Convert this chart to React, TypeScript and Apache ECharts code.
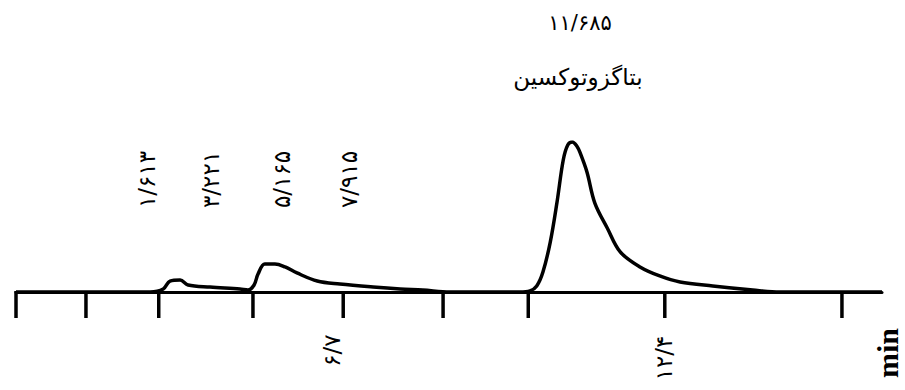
import React, { useEffect, useRef } from "react";
import * as echarts from "echarts";

// Retention time axis (min) and detector signal (% of main peak height)
const signalTime = [
  0.9, 3.28, 3.51, 3.63, 3.81, 3.95, 4.34, 4.87, 5.01, 5.12, 5.19, 5.31, 5.49, 5.67, 5.88,
  6.24, 6.64, 7.23, 7.71, 8.11, 8.59, 9.83, 10.01, 10.13, 10.24, 10.37, 10.49, 10.6, 10.68,
  10.76, 10.84, 10.9, 11.02, 11.16, 11.38, 11.61, 11.96, 12.31, 12.67, 13.25, 13.96, 14.44, 16.25,
];
const signalValue = [
  0, 0, 2.0, 7.3, 8.0, 4.7, 3.3, 2.0, 1.3, 4.7, 12.0, 18.7, 18.7, 16.7, 12.7,
  7.3, 5.3, 3.3, 2.0, 1.3, 0, 0, 0.7, 4.0, 13.3, 33.3, 60.0, 88.0, 98.0,
  100, 97.3, 92.7, 80.0, 59.3, 42.7, 26.7, 16.7, 10.7, 6.7, 4.0, 1.3, 0, 0,
];

// Tick marks hanging below the baseline (min)
const tickTimes = [0.9, 2.14, 3.43, 5.1, 6.7, 8.47, 9.98, 12.4, 15.54];

// Peak retention-time labels (vertical, above the trace)
const peakLabelTexts = ["۱/۶۱۳", "۳/۲۲۱", "۵/۱۶۵", "۷/۹۱۵"];
const peakLabelTimes = [3.22, 4.36, 5.61, 6.8];

// Axis labels under the baseline
const axisLabelTexts = ["۶/۷", "۱۲/۴"];
const axisLabelTimes = [6.5, 12.39];

const mainPeakTime = "۱۱/۶۸۵";
const mainPeakName = "بتاگزوتوکسین";
const unitLabel = "min";

const X_MIN = 0.9;
const X_MAX = 16.25;

export default function App() {
  const ref = useRef<HTMLDivElement>(null);

  useEffect(() => {
    if (!ref.current) return;
    const chart = echarts.init(ref.current, undefined, { renderer: "svg" });
    const persianFont = "DejaVu Sans";

    const option: any = {
      animation: false,
      backgroundColor: "#ffffff",
      grid: { left: 16, right: 23, top: 142, bottom: 98 },
      xAxis: {
        type: "value",
        min: X_MIN,
        max: X_MAX,
        axisLine: { show: true, lineStyle: { color: "#000", width: 3 } },
        axisTick: { show: false },
        axisLabel: { show: false },
        splitLine: { show: false },
      },
      yAxis: {
        type: "value",
        min: 0,
        max: 100,
        show: false,
      },
      graphic: [
        {
          type: "text",
          x: 580,
          y: 23,
          style: {
            text: mainPeakTime,
            fontFamily: persianFont,
            fontSize: 21,
            fill: "#000",
            align: "center",
            verticalAlign: "middle",
          },
        },
        {
          type: "text",
          x: 578,
          y: 77,
          style: {
            text: mainPeakName,
            fontFamily: persianFont,
            fontSize: 23,
            fill: "#000",
            align: "center",
            verticalAlign: "middle",
          },
        },
        {
          type: "text",
          x: 887,
          y: 353,
          rotation: Math.PI / 2,
          style: {
            text: unitLabel,
            fontFamily: "Liberation Serif",
            fontWeight: "bold",
            fontSize: 30,
            fill: "#000",
            align: "center",
            verticalAlign: "middle",
          },
        },
      ],
      series: [
        {
          type: "line",
          data: signalTime.map((t, i) => [t, signalValue[i]]),
          smooth: 0.35,
          symbol: "none",
          lineStyle: { color: "#000", width: 3.5 },
          z: 5,
        },
        {
          type: "custom",
          clip: false,
          data: tickTimes.map((t) => [t, 0]),
          renderItem: (params: any, api: any) => {
            const p = api.coord([api.value(0), 0]);
            return {
              type: "line",
              shape: { x1: p[0], y1: p[1] - 1, x2: p[0], y2: p[1] + 26 },
              style: { stroke: "#000", lineWidth: 3.5 },
            };
          },
        },
        {
          type: "custom",
          clip: false,
          data: peakLabelTimes.map((t) => [t, 75]),
          renderItem: (params: any, api: any) => {
            const p = api.coord([api.value(0), api.value(1)]);
            return {
              type: "text",
              x: p[0],
              y: p[1],
              rotation: Math.PI / 2,
              style: {
                text: peakLabelTexts[params.dataIndex],
                fontFamily: persianFont,
                fontSize: 23,
                fill: "#000",
                align: "center",
                verticalAlign: "middle",
              },
            };
          },
        },
        {
          type: "custom",
          clip: false,
          data: axisLabelTimes.map((t, i) => [t, i === 0 ? -39 : -44]),
          renderItem: (params: any, api: any) => {
            const p = api.coord([api.value(0), api.value(1)]);
            return {
              type: "text",
              x: p[0],
              y: p[1],
              rotation: Math.PI / 2,
              style: {
                text: axisLabelTexts[params.dataIndex],
                fontFamily: persianFont,
                fontSize: 23,
                fill: "#000",
                align: "center",
                verticalAlign: "middle",
              },
            };
          },
        },
      ],
    };

    chart.setOption(option);
    return () => chart.dispose();
  }, []);

  return (
    <div
      ref={ref}
      style={{ position: "fixed", left: 0, top: 0, width: 905, height: 390, background: "#fff" }}
    />
  );
}
